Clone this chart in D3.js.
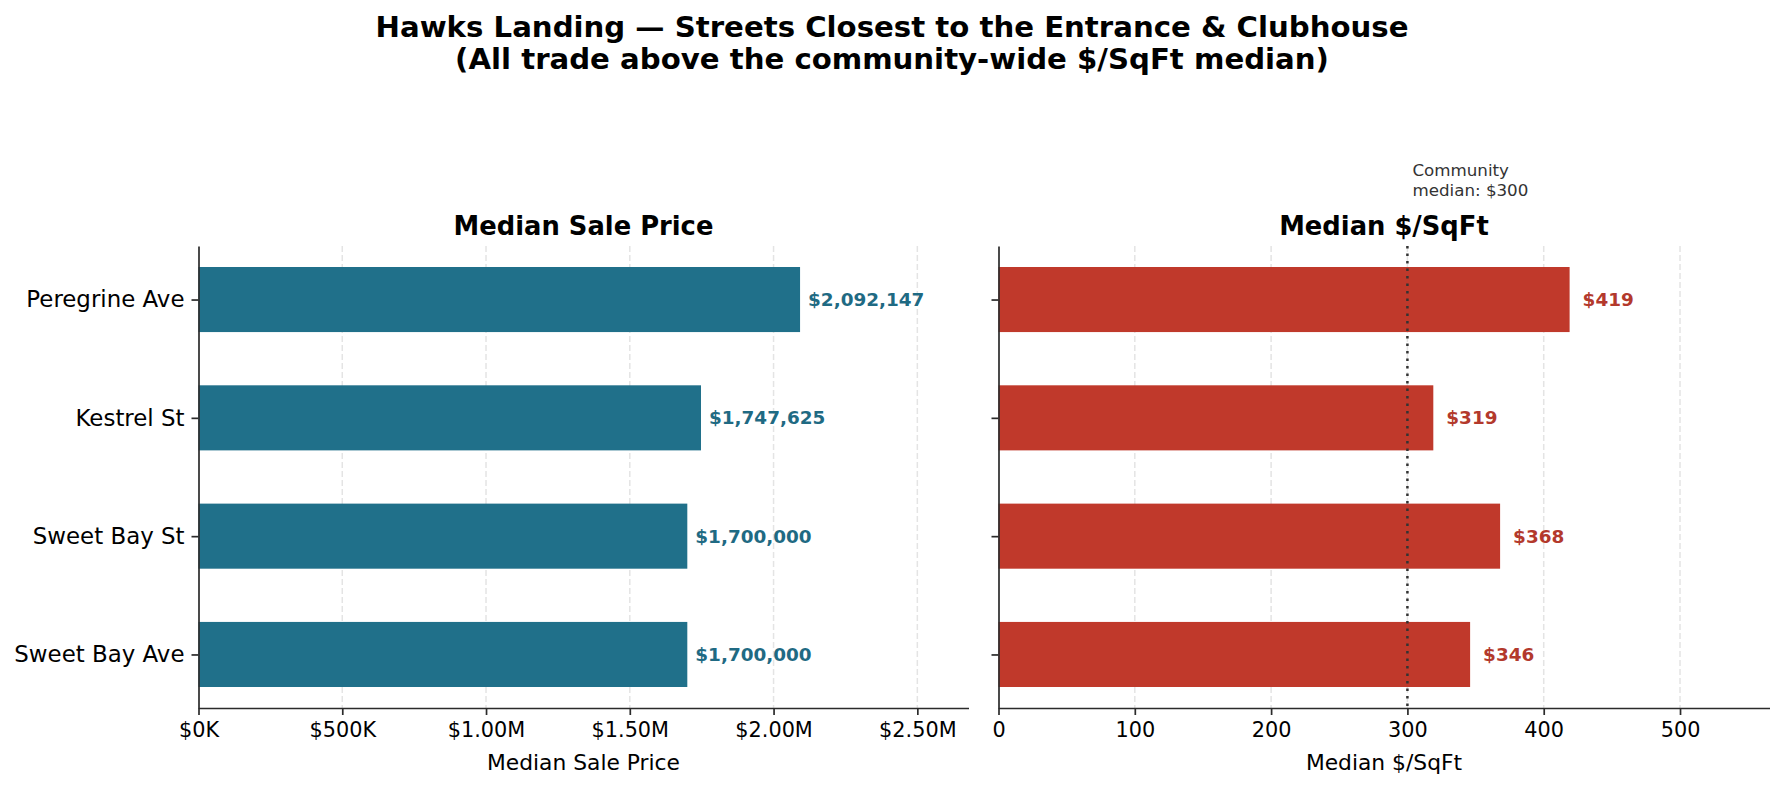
<!DOCTYPE html>
<html>
<head>
<meta charset="utf-8">
<script src="https://cdn.jsdelivr.net/npm/d3@7"></script>
<style>
  body { margin: 0; background: #fff; }
  svg { display: block; font-family: "DejaVu Sans", sans-serif; }
</style>
</head>
<body>
<svg id="chart" width="1784" height="787"></svg>
<script>
// data
var streets = ["Peregrine Ave", "Kestrel St", "Sweet Bay St", "Sweet Bay Ave"];
var median_price = [2092147, 1747625, 1700000, 1700000];
var median_psf = [419, 319, 368, 346];
var community_psf = 300;
var price_ticks = [0, 500000, 1000000, 1500000, 2000000, 2500000];
var psf_ticks = [0, 100, 200, 300, 400, 500];

var title_lines = ["Hawks Landing \u2014 Streets Closest to the Entrance & Clubhouse",
                   "(All trade above the community-wide $/SqFt median)"];

var width = 1784, height = 787,
    top_y = 246, bottom_y = 708,
    bar_h = 0.55,
    teal = "#20708a", red = "#c0392b", spine = "#2b2b2b";

var svg = d3.select("#chart");

// main title
svg.append("g").selectAll("text")
    .data(title_lines)
    .join("text")
    .attr("x", width / 2)
    .attr("y", (d, i) => 37 + i * 32)
    .attr("text-anchor", "middle")
    .attr("font-weight", "bold")
    .attr("font-size", "29.2px")
    .attr("fill", "#000")
    .text(d => d);

// y scale shared by both panels (matplotlib style margins)
var pad = (streets.length - 1 + bar_h) * 0.05;
var y = d3.scaleLinear()
    .domain([-bar_h / 2 - pad, streets.length - 1 + bar_h / 2 + pad])
    .range([top_y, bottom_y]);

function fmt_price(v) {
    if (v >= 1e6) return "$" + (v / 1e6).toFixed(2) + "M";
    return "$" + (v / 1e3).toFixed(0) + "K";
}

function panel(opts) {
    var g = svg.append("g");
    var x = d3.scaleLinear().domain([0, opts.xmax]).range([opts.x0, opts.x1]);

    // grid
    g.append("g").selectAll("line")
        .data(opts.ticks.filter(t => t > 0))
        .join("line")
        .attr("x1", d => x(d)).attr("x2", d => x(d))
        .attr("y1", top_y).attr("y2", bottom_y)
        .attr("stroke", "#e4e4e4")
        .attr("stroke-width", 1.5)
        .attr("stroke-dasharray", "6,3");

    // bars
    g.append("g").selectAll("rect")
        .data(opts.values)
        .join("rect")
        .attr("x", x(0))
        .attr("y", (d, i) => y(i - bar_h / 2))
        .attr("width", d => x(d) - x(0))
        .attr("height", y(bar_h) - y(0))
        .attr("fill", opts.colour);

    if (opts.refline !== undefined) {
        g.append("line")
            .attr("x1", x(opts.refline)).attr("x2", x(opts.refline))
            .attr("y1", top_y).attr("y2", bottom_y)
            .attr("stroke", "#333")
            .attr("stroke-width", 2.5)
            .attr("stroke-dasharray", "2.5,5");
        var note = g.append("text")
            .attr("x", x(opts.refline) + 5)
            .attr("y", 176)
            .attr("font-size", "16.7px")
            .attr("fill", "#333");
        note.append("tspan").attr("x", x(opts.refline) + 5).text("Community");
        note.append("tspan").attr("x", x(opts.refline) + 5).attr("dy", 20).text("median: $" + opts.refline);
    }

    // value labels
    g.append("g").selectAll("text")
        .data(opts.values)
        .join("text")
        .attr("x", d => x(d) + opts.label_pad)
        .attr("y", (d, i) => y(i))
        .attr("dy", "0.36em")
        .attr("font-size", "18.4px")
        .attr("font-weight", "bold")
        .attr("fill", opts.label_colour)
        .text(opts.label_fmt);

    // x axis
    var xa = g.append("g")
        .attr("transform", "translate(0," + bottom_y + ")")
        .call(d3.axisBottom(x).tickValues(opts.ticks).tickFormat(opts.tick_fmt).tickSize(7).tickPadding(7).tickSizeOuter(0));
    xa.select(".domain").attr("stroke", spine).attr("stroke-width", 1.7);
    xa.selectAll(".tick line").attr("stroke", spine).attr("stroke-width", 1.7);
    xa.selectAll(".tick text").attr("font-size", "20.8px").attr("fill", "#000").attr("font-family", "DejaVu Sans");

    // y axis
    var ya = g.append("g")
        .attr("transform", "translate(" + opts.x0 + ",0)")
        .call(d3.axisLeft(y).tickValues(d3.range(streets.length))
            .tickFormat(opts.show_names ? (i => streets[i]) : "")
            .tickSize(7).tickPadding(7).tickSizeOuter(0));
    ya.select(".domain").attr("stroke", spine).attr("stroke-width", 1.7);
    ya.selectAll(".tick line").attr("stroke", spine).attr("stroke-width", 1.7);
    ya.selectAll(".tick text").attr("font-size", "22.9px").attr("fill", "#000").attr("font-family", "DejaVu Sans");

    // subplot title
    g.append("text")
        .attr("x", (opts.x0 + opts.x1) / 2)
        .attr("y", 235)
        .attr("text-anchor", "middle")
        .attr("font-size", "25.8px")
        .attr("font-weight", "bold")
        .attr("fill", "#000")
        .text(opts.title);

    // axis label
    g.append("text")
        .attr("x", (opts.x0 + opts.x1) / 2)
        .attr("y", 770)
        .attr("text-anchor", "middle")
        .attr("font-size", "21.8px")
        .attr("fill", "#000")
        .text(opts.title);
}

panel({
    x0: 198.5, x1: 968.5,
    xmax: d3.max(median_price) * 1.28,
    values: median_price,
    ticks: price_ticks,
    tick_fmt: fmt_price,
    label_fmt: d => "$" + d3.format(",")(d),
    label_pad: 8,
    colour: teal,
    label_colour: "#1f6a83",
    title: "Median Sale Price",
    show_names: true
});

panel({
    x0: 998.5, x1: 1769.5,
    xmax: d3.max(median_psf) * 1.35,
    values: median_psf,
    ticks: psf_ticks,
    tick_fmt: d3.format("d"),
    label_fmt: d => "$" + d,
    label_pad: 13,
    colour: red,
    label_colour: "#b3392c",
    title: "Median $/SqFt",
    refline: community_psf,
    show_names: false
});
</script>
</body>
</html>
